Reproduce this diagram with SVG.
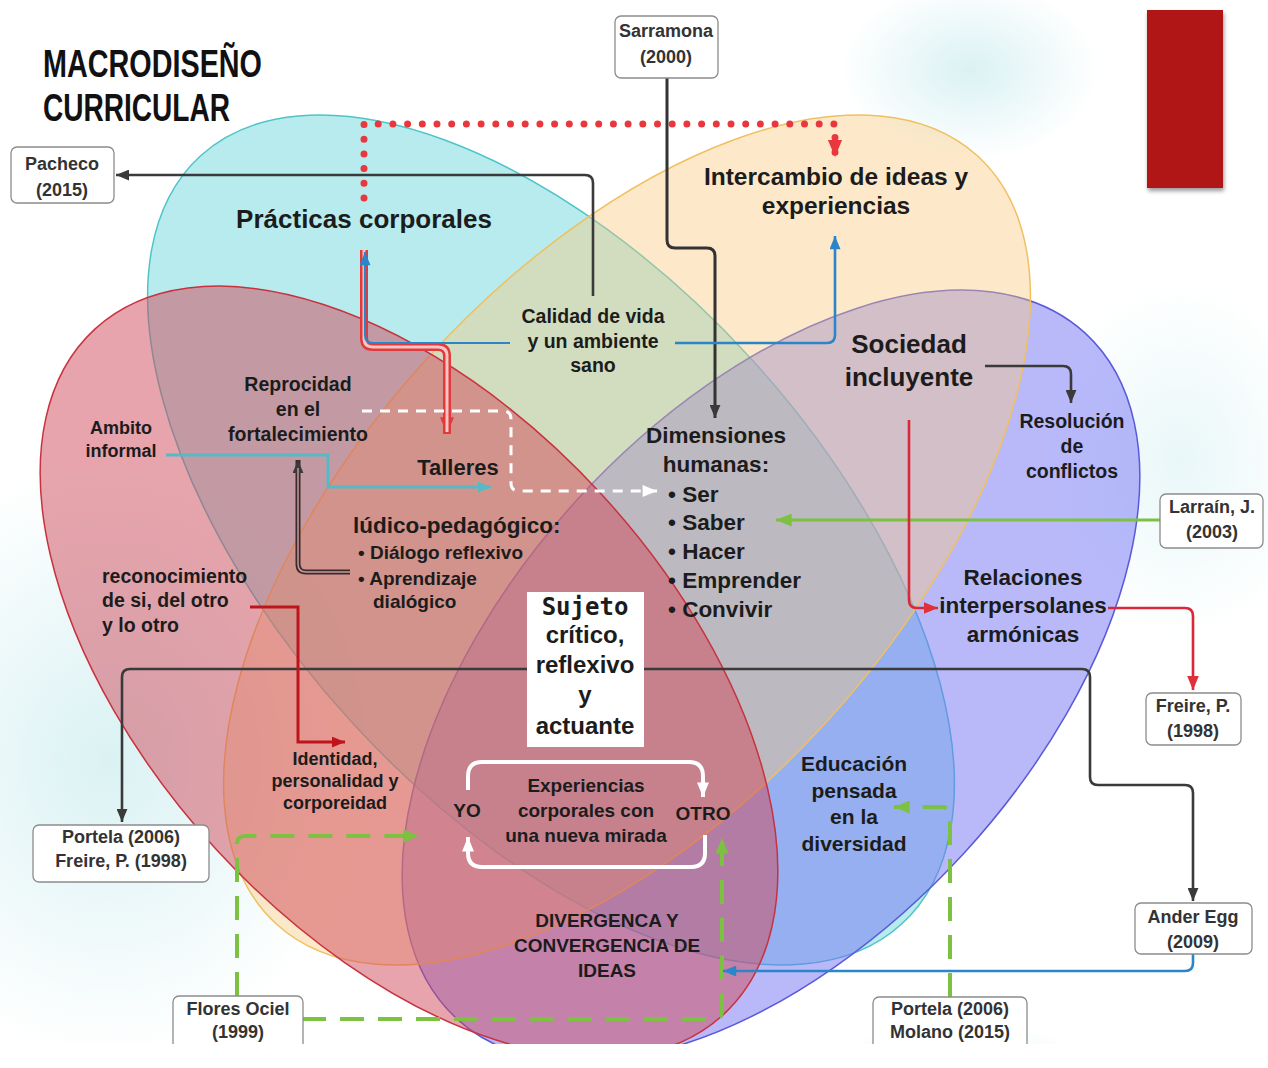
<svg xmlns="http://www.w3.org/2000/svg" width="1268" height="1068" viewBox="0 0 1268 1068">
<defs>
<radialGradient id="blob" cx="50%" cy="50%" r="50%">
<stop offset="0" stop-color="#d6f0f2" stop-opacity="0.9"/>
<stop offset="1" stop-color="#d6f0f2" stop-opacity="0"/>
</radialGradient>
<filter id="sh" x="-20%" y="-20%" width="140%" height="140%">
<feGaussianBlur in="SourceAlpha" stdDeviation="2"/>
<feOffset dx="1" dy="3"/>
<feComponentTransfer><feFuncA type="linear" slope="0.4"/></feComponentTransfer>
<feMerge><feMergeNode/><feMergeNode in="SourceGraphic"/></feMerge>
</filter>
<marker id="ah-dark" viewBox="0 0 12 10" refX="12" refY="5" markerWidth="13" markerHeight="11" orient="auto" markerUnits="userSpaceOnUse"><path d="M0,0 L12,5 L0,10 z" fill="#3a3a3a"/></marker>
<marker id="ah-red" viewBox="0 0 12 10" refX="12" refY="5" markerWidth="14" markerHeight="12" orient="auto" markerUnits="userSpaceOnUse"><path d="M0,0 L12,5 L0,10 z" fill="#e0303a"/></marker>
<marker id="ah-reddot" viewBox="0 0 12 10" refX="12" refY="5" markerWidth="17" markerHeight="15" orient="auto" markerUnits="userSpaceOnUse"><path d="M0,0 L12,5 L0,10 z" fill="#e8383d"/></marker>
<marker id="ah-redbig" viewBox="0 0 12 10" refX="12" refY="5" markerWidth="17" markerHeight="14" orient="auto" markerUnits="userSpaceOnUse"><path d="M0,0 L12,5 L0,10 z" fill="#e23a3a"/></marker>
<marker id="ah-dred" viewBox="0 0 12 10" refX="12" refY="5" markerWidth="13" markerHeight="11" orient="auto" markerUnits="userSpaceOnUse"><path d="M0,0 L12,5 L0,10 z" fill="#c0141c"/></marker>
<marker id="ah-blue" viewBox="0 0 12 10" refX="12" refY="5" markerWidth="14" markerHeight="11" orient="auto" markerUnits="userSpaceOnUse"><path d="M0,0 L12,5 L0,10 z" fill="#2a86c8"/></marker>
<marker id="ah-teal" viewBox="0 0 12 10" refX="12" refY="5" markerWidth="13" markerHeight="11" orient="auto" markerUnits="userSpaceOnUse"><path d="M0,0 L12,5 L0,10 z" fill="#56b9c6"/></marker>
<marker id="ah-green" viewBox="0 0 12 10" refX="12" refY="5" markerWidth="16" markerHeight="13" orient="auto" markerUnits="userSpaceOnUse"><path d="M0,0 L12,5 L0,10 z" fill="#7cc142"/></marker>
<marker id="ah-white" viewBox="0 0 12 10" refX="12" refY="5" markerWidth="15" markerHeight="12" orient="auto" markerUnits="userSpaceOnUse"><path d="M0,0 L12,5 L0,10 z" fill="#ffffff"/></marker>
</defs>
<style>
text{font-family:"Liberation Sans",Arial,sans-serif;font-weight:bold;fill:#1c1c1c;text-anchor:middle}
.l{text-anchor:start}
.box rect{fill:#fff;stroke:#8c8c8c;stroke-width:1.3}
.box text{font-size:18px;fill:#333}
.title{font-family:"Liberation Sans",Arial,sans-serif;font-weight:700;font-size:39px;fill:#111;text-anchor:start}
.mono{font-family:"DejaVu Sans Mono","Liberation Mono",monospace}
.c path{fill:none}
.dark{stroke:#3a3a3a;stroke-width:2.6}
</style>
<rect width="1268" height="1068" fill="#ffffff"/>
<g id="background">
<ellipse cx="110" cy="760" rx="260" ry="300" fill="url(#blob)"/>
<ellipse cx="970" cy="70" rx="130" ry="90" fill="url(#blob)"/>
<ellipse cx="1180" cy="460" rx="140" ry="180" fill="url(#blob)" opacity="0.6"/>
<ellipse cx="960" cy="1060" rx="120" ry="40" fill="url(#blob)" opacity="0.7"/>
</g>
<g id="venn">
<ellipse id="set-practicas" cx="551" cy="540" rx="520" ry="270" transform="rotate(47.6 551 540)" fill="#5fd3d6" fill-opacity="0.45" stroke="#4fc4c8" stroke-width="1.5"/>
<ellipse id="set-sociedad" cx="771" cy="676" rx="465" ry="262" transform="rotate(-47.5 771 676)" fill="#7373f5" fill-opacity="0.5" stroke="#5a5ad8" stroke-width="1.5"/>
<ellipse id="set-intercambio" cx="627" cy="540" rx="520" ry="270" transform="rotate(-47.6 627 540)" fill="#fbc97a" fill-opacity="0.4" stroke="#f0c060" stroke-width="1.5"/>
<ellipse id="set-sujeto" cx="409" cy="672" rx="465" ry="262" transform="rotate(47.5 409 672)" fill="#d0495a" fill-opacity="0.5" stroke="#c8323f" stroke-width="1.5"/>
</g>
<rect x="0" y="1044" width="1268" height="24" fill="#ffffff"/>
<g id="title">
<text class="title" x="43" y="77" textLength="219" lengthAdjust="spacingAndGlyphs">MACRODISEÑO</text>
<text class="title" x="43" y="121" textLength="187" lengthAdjust="spacingAndGlyphs">CURRICULAR</text>
</g>
<g id="red-block"><rect x="1147" y="10" width="76" height="178" fill="#b01515" filter="url(#sh)"/></g>
<g id="connectors" class="c">
<path d="M364,198 V124 H835 V157" stroke="#e8383d" stroke-width="7" stroke-linecap="round" stroke-dasharray="0 14.7" marker-end="url(#ah-reddot)"/>
<path d="M593,296 V183 Q593,175 585,175 H116" class="dark" marker-end="url(#ah-dark)"/>
<path d="M667,78 V240 Q667,248 675,248 H707 Q715,248 715,256 V418" stroke="#333" stroke-width="3" marker-end="url(#ah-dark)"/>
<path d="M675,343 H827 Q835,343 835,335 V236" stroke="#2a86c8" stroke-width="2.6" marker-end="url(#ah-blue)"/>
<path d="M364,250 V338 Q364,347 373,347 H438 Q447,347 447,356 V434" stroke="#e23a3a" stroke-width="8" marker-end="url(#ah-redbig)"/>
<path d="M364,250 V338 Q364,347 373,347 H438 Q447,347 447,356 V432" stroke="#f5c4c4" stroke-width="3"/>
<path d="M510,343 H373 Q365,343 365,335 V252" stroke="#2a86c8" stroke-width="2.2" marker-end="url(#ah-blue)"/>
<path d="M166,455 H328 V487 H491" stroke="#56b9c6" stroke-width="3" marker-end="url(#ah-teal)"/>
<path d="M350,572 H306 Q298,572 298,564 V460" stroke="#3b2a2a" stroke-width="5" marker-end="url(#ah-dark)"/>
<path d="M350,572 H306 Q298,572 298,564 V468" stroke="#c7999b" stroke-width="1.5"/>
<path d="M362,411 H503 Q511,411 511,419 V483 Q511,491 519,491 H657" stroke="#ffffff" stroke-width="3" stroke-dasharray="10 8" marker-end="url(#ah-white)"/>
<path d="M1160,520 H776" stroke="#7cc142" stroke-width="3" marker-end="url(#ah-green)"/>
<path d="M985,366 H1063 Q1071,366 1071,374 V403" class="dark" marker-end="url(#ah-dark)"/>
<path d="M909,420 V600 Q909,608 917,608 H938" stroke="#d8283a" stroke-width="2.6" marker-end="url(#ah-red)"/>
<path d="M1108,608 H1185 Q1193,608 1193,616 V690" stroke="#d8283a" stroke-width="2.6" marker-end="url(#ah-red)"/>
<path d="M527,669 H130 Q122,669 122,677 V822" class="dark" marker-end="url(#ah-dark)"/>
<path d="M644,669 H1082 Q1090,669 1090,677 V777 Q1090,785 1098,785 H1185 Q1193,785 1193,793 V901" class="dark" marker-end="url(#ah-dark)"/>
<path d="M250,607 H298 V742 H345" stroke="#c0141c" stroke-width="3" marker-end="url(#ah-dred)"/>
<path d="M237,996 V844 Q237,836 245,836 H419" stroke="#7cc142" stroke-width="4" stroke-dasharray="24 14" marker-end="url(#ah-green)"/>
<path d="M302,1019 H714 Q722,1019 722,1011 V838" stroke="#7cc142" stroke-width="4" stroke-dasharray="24 14" marker-end="url(#ah-green)"/>
<path d="M950,997 V815 Q950,807 942,807 H894" stroke="#7cc142" stroke-width="4" stroke-dasharray="24 14" marker-end="url(#ah-green)"/>
<path d="M1193,954 V963 Q1193,971 1185,971 H723" stroke="#2a86c8" stroke-width="2.6" marker-end="url(#ah-blue)"/>
<path d="M468,790 V776 Q468,762 482,762 H689 Q703,762 703,776 V797" stroke="#ffffff" stroke-width="4" marker-end="url(#ah-white)"/>
<path d="M705,835 V853 Q705,867 691,867 H482 Q468,867 468,853 V837" stroke="#ffffff" stroke-width="4" marker-end="url(#ah-white)"/>
</g>
<g id="n-sarramona" class="box"><rect x="615" y="16" width="103" height="62" rx="6"/><text x="666" y="37">Sarramona</text><text x="666" y="63">(2000)</text></g>
<g id="n-pacheco" class="box"><rect x="11" y="147" width="103" height="56" rx="6"/><text x="62" y="170">Pacheco</text><text x="62" y="196">(2015)</text></g>
<g id="n-larrain" class="box"><rect x="1160" y="494" width="103" height="54" rx="6"/><text x="1212" y="513">Larraín, J.</text><text x="1212" y="538">(2003)</text></g>
<g id="n-freire" class="box"><rect x="1146" y="693" width="95" height="52" rx="6"/><text x="1193" y="712">Freire, P.</text><text x="1193" y="737">(1998)</text></g>
<g id="n-anderegg" class="box"><rect x="1135" y="903" width="117" height="51" rx="6"/><text x="1193" y="923">Ander Egg</text><text x="1193" y="948">(2009)</text></g>
<g id="n-portela-freire" class="box"><rect x="33" y="825" width="176" height="57" rx="6"/><text x="121" y="843">Portela (2006)</text><text x="121" y="867">Freire, P. (1998)</text></g>
<g id="n-flores" class="box"><rect x="173" y="996" width="130" height="60" rx="6"/><text x="238" y="1015">Flores Ociel</text><text x="238" y="1038">(1999)</text></g>
<g id="n-portela-molano" class="box"><rect x="873" y="997" width="154" height="60" rx="6"/><text x="950" y="1015">Portela (2006)</text><text x="950" y="1038">Molano (2015)</text></g>
<rect x="0" y="1044" width="1268" height="24" fill="#ffffff"/>
<g id="n-practicas"><text x="364" y="228" font-size="26">Prácticas corporales</text></g>
<g id="n-intercambio"><text x="836" y="185" font-size="24.5">Intercambio de ideas y</text><text x="836" y="214" font-size="24.5">experiencias</text></g>
<g id="n-calidad"><text x="593" y="323" font-size="19.5">Calidad de vida</text><text x="593" y="348" font-size="19.5">y un ambiente</text><text x="593" y="372" font-size="19.5">sano</text></g>
<g id="n-sociedad"><text x="909" y="353" font-size="26">Sociedad</text><text x="909" y="386" font-size="26">incluyente</text></g>
<g id="n-resolucion"><text x="1072" y="428" font-size="19.5">Resolución</text><text x="1072" y="453" font-size="19.5">de</text><text x="1072" y="478" font-size="19.5">conflictos</text></g>
<g id="n-reprocidad"><text x="298" y="391" font-size="19.5">Reprocidad</text><text x="298" y="416" font-size="19.5">en el</text><text x="298" y="441" font-size="19.5">fortalecimiento</text></g>
<g id="n-ambito"><text x="121" y="434" font-size="18">Ambito</text><text x="121" y="457" font-size="18">informal</text></g>
<g id="n-talleres"><text x="458" y="475" font-size="22">Talleres</text></g>
<g id="n-ludico">
<text class="l" x="353" y="533" font-size="22.5">lúdico-pedagógico:</text>
<text class="l" x="358" y="559" font-size="19">• Diálogo reflexivo</text>
<text class="l" x="358" y="585" font-size="19">• Aprendizaje</text>
<text class="l" x="373" y="608" font-size="19">dialógico</text>
</g>
<g id="n-dimensiones">
<text x="716" y="443" font-size="22.5">Dimensiones</text>
<text x="716" y="472" font-size="22.5">humanas:</text>
<text class="l" x="668" y="502" font-size="22.5">• Ser</text>
<text class="l" x="668" y="530" font-size="22.5">• Saber</text>
<text class="l" x="668" y="559" font-size="22.5">• Hacer</text>
<text class="l" x="668" y="588" font-size="22.5">• Emprender</text>
<text class="l" x="668" y="617" font-size="22.5">• Convivir</text>
</g>
<g id="n-reconocimiento"><text class="l" x="102" y="583" font-size="19.5">reconocimiento</text><text class="l" x="102" y="607" font-size="19.5">de si, del otro</text><text class="l" x="102" y="632" font-size="19.5">y lo otro</text></g>
<g id="n-relaciones"><text x="1023" y="585" font-size="22.5">Relaciones</text><text x="1023" y="613" font-size="22.5">interpersolanes</text><text x="1023" y="642" font-size="22.5">armónicas</text></g>
<g id="n-sujeto">
<rect x="527" y="592" width="117" height="155" fill="#ffffff"/>
<text class="mono" x="585" y="615" font-size="24">Sujeto</text>
<text x="585" y="643" font-size="24">crítico,</text>
<text x="585" y="673" font-size="24">reflexivo</text>
<text x="585" y="703" font-size="24">y</text>
<text x="585" y="734" font-size="24">actuante</text>
</g>
<g id="n-identidad"><text x="335" y="765" font-size="18">Identidad,</text><text x="335" y="787" font-size="18">personalidad y</text><text x="335" y="809" font-size="18">corporeidad</text></g>
<g id="n-experiencias"><text x="586" y="792" font-size="19">Experiencias</text><text x="586" y="817" font-size="19">corporales con</text><text x="586" y="842" font-size="19">una nueva mirada</text></g>
<g id="n-yo"><text x="467" y="817" font-size="19">YO</text></g>
<g id="n-otro"><text x="703" y="820" font-size="19">OTRO</text></g>
<g id="n-educacion"><text x="854" y="771" font-size="21">Educación</text><text x="854" y="798" font-size="21">pensada</text><text x="854" y="824" font-size="21">en la</text><text x="854" y="851" font-size="21">diversidad</text></g>
<g id="n-divergencia"><text x="607" y="927" font-size="19" fill="#2a1830">DIVERGENCA Y</text><text x="607" y="952" font-size="19" fill="#2a1830">CONVERGENCIA DE</text><text x="607" y="977" font-size="19" fill="#2a1830">IDEAS</text></g>
</svg>
